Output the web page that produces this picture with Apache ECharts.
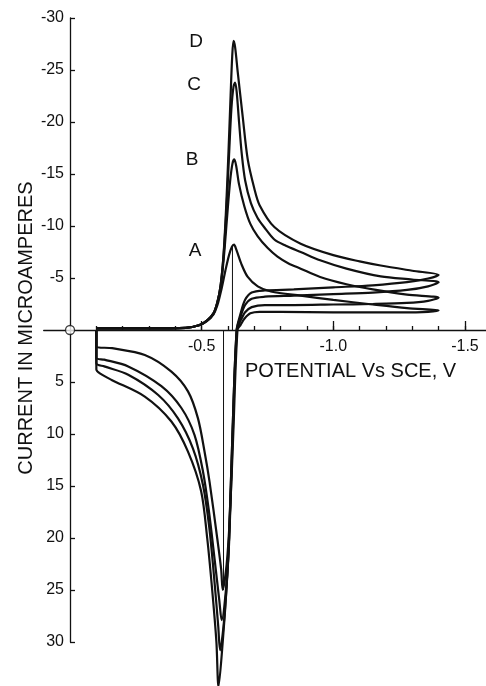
<!DOCTYPE html>
<html>
<head>
<meta charset="utf-8">
<title>Cyclic voltammograms A-D</title>
<script src="https://cdn.jsdelivr.net/npm/echarts@6.0.0/dist/echarts.min.js"></script>
<style>
html, body { margin: 0; padding: 0; background: #fff; }
#chart { width: 486px; height: 686px; }
</style>
</head>
<body>
<div id="chart"></div>
<script>
// potential in V vs SCE, current in microamperes (cathodic negative)
var curveA = [
	[-0.10, -0.15], [-0.30, -0.15], [-0.44, -0.2], [-0.49, -0.45], [-0.52, -0.85], [-0.545, -1.5], [-0.56, -2.4],
	[-0.575, -3.9], [-0.59, -5.7], [-0.604, -7.2], [-0.615, -8.0], [-0.623, -8.2], [-0.632, -7.7], [-0.650, -6.4],
	[-0.675, -5.1], [-0.713, -4.2], [-0.763, -3.7], [-0.876, -3.3], [-1.0, -2.9], [-1.15, -2.45], [-1.28, -2.1], [-1.40, -1.9],
	[-1.36, -1.75], [-1.25, -1.7], [-1.0, -1.7], [-0.80, -1.75], [-0.72, -1.75], [-0.685, -1.6], [-0.663, -1.1], [-0.648, -0.5], [-0.636, 0],
	[-0.620, 10], [-0.607, 18], [-0.595, 22.5], [-0.580, 25],
	[-0.574, 23], [-0.559, 20], [-0.530, 14.6], [-0.511, 11.7], [-0.486, 8.5], [-0.448, 5.9], [-0.385, 4.0], [-0.284, 2.4],
	[-0.16, 1.75], [-0.10, 1.6], [-0.10, 0]
];
var curveB = [
	[-0.10, -0.15], [-0.30, -0.15], [-0.44, -0.2], [-0.49, -0.45], [-0.52, -0.9], [-0.545, -1.6], [-0.56, -2.7],
	[-0.573, -4.3], [-0.585, -7.2], [-0.597, -11.0], [-0.608, -14.3], [-0.617, -16.0], [-0.624, -16.4], [-0.631, -15.8],
	[-0.642, -14.0], [-0.662, -11.9], [-0.685, -10.2], [-0.713, -9.0], [-0.75, -7.9], [-0.788, -7.05], [-0.83, -6.4],
	[-0.876, -5.9], [-0.95, -5.1], [-1.05, -4.4], [-1.15, -3.9], [-1.28, -3.4], [-1.40, -3.1],
	[-1.36, -2.8], [-1.28, -2.6], [-1.15, -2.5], [-1.00, -2.45], [-0.85, -2.4], [-0.74, -2.4], [-0.69, -2.2], [-0.665, -1.7], [-0.648, -0.9], [-0.634, 0],
	[-0.618, 10], [-0.605, 20], [-0.594, 24.5], [-0.576, 27.9],
	[-0.567, 26], [-0.549, 22], [-0.527, 17.3], [-0.505, 13.6], [-0.473, 10.1], [-0.423, 7.5], [-0.347, 5.4], [-0.221, 3.5],
	[-0.13, 2.85], [-0.10, 2.7], [-0.10, 0]
];
var curveC = [
	[-0.10, -0.15], [-0.30, -0.15], [-0.44, -0.2], [-0.49, -0.45], [-0.52, -0.9], [-0.545, -1.6], [-0.56, -2.7],
	[-0.572, -4.3], [-0.583, -7.1], [-0.594, -11.5], [-0.604, -16.8], [-0.613, -21.3], [-0.621, -23.4], [-0.627, -23.8],
	[-0.633, -22.9], [-0.642, -20.0], [-0.652, -17.0], [-0.665, -14.4], [-0.687, -12.2], [-0.712, -10.8], [-0.737, -9.9],
	[-0.776, -8.7], [-0.82, -8.1], [-0.876, -7.5], [-0.95, -6.7], [-1.05, -5.9], [-1.18, -5.15], [-1.30, -4.85], [-1.40, -4.6],
	[-1.36, -4.2], [-1.28, -3.85], [-1.15, -3.6], [-1.00, -3.45], [-0.85, -3.3], [-0.74, -3.2], [-0.69, -3.0], [-0.665, -2.4], [-0.648, -1.3], [-0.633, 0],
	[-0.617, 10], [-0.604, 20], [-0.595, 24.5], [-0.583, 28.5], [-0.570, 30.8],
	[-0.563, 28.5], [-0.548, 24], [-0.529, 19], [-0.505, 14.9], [-0.467, 11.4], [-0.410, 8.5], [-0.335, 6.25], [-0.221, 4.3],
	[-0.13, 3.5], [-0.10, 3.2], [-0.10, 0]
];
var curveD = [
	[-0.10, -0.15], [-0.30, -0.15], [-0.44, -0.2], [-0.49, -0.45], [-0.52, -0.9], [-0.545, -1.6], [-0.56, -2.7],
	[-0.572, -4.3], [-0.583, -7.2], [-0.593, -11.8], [-0.602, -17.2], [-0.610, -22.6], [-0.616, -26.3], [-0.621, -27.8],
	[-0.627, -27.2], [-0.637, -24.8], [-0.656, -20.5], [-0.675, -16.4], [-0.700, -13.6], [-0.72, -12.0], [-0.776, -9.9],
	[-0.876, -8.3], [-1.00, -7.2], [-1.10, -6.6], [-1.18, -6.2], [-1.30, -5.7], [-1.40, -5.3],
	[-1.36, -4.95], [-1.28, -4.6], [-1.15, -4.3], [-1.00, -4.1], [-0.85, -3.9], [-0.74, -3.8], [-0.69, -3.6], [-0.665, -2.9], [-0.648, -1.6], [-0.633, 0],
	[-0.617, 10], [-0.604, 20], [-0.594, 25], [-0.580, 30], [-0.564, 34.3],
	[-0.556, 30], [-0.540, 25], [-0.521, 20], [-0.498, 15.5], [-0.448, 11.7], [-0.385, 8.8], [-0.284, 6.4], [-0.158, 4.8],
	[-0.115, 4.2], [-0.10, 3.8], [-0.10, 0]
];
var curveNames = ['A', 'B', 'C', 'D'];
// thin lines marking the peak potentials of curve A
var cathodicMarkA = [[-0.617, -8.1], [-0.617, 0]];
var anodicMarkA = [[-0.583, 0], [-0.583, 25]];
var origin = [[0, 0]];
// x axis ticks and labels
var minorTicks = [-0.1, -0.2, -0.3, -0.4, -0.5, -0.6, -0.7, -0.8, -0.9, -1.0, -1.1, -1.2, -1.3, -1.4, -1.5];
var majorTicks = [-0.5, -1.0, -1.5];

var font = 'Liberation Sans';
var ink = '#111';

var chart = echarts.init(document.getElementById('chart'));

var curves = [curveA, curveB, curveC, curveD];
var series = curves.map(function (c, i) {
	return {
		name: curveNames[i],
		type: 'line',
		data: c,
		showSymbol: false,
		smooth: 0.3,
		clip: false,
		lineStyle: { color: ink, width: 2.2 },
		z: 3
	};
});
series.push({
	type: 'line', data: cathodicMarkA, showSymbol: false,
	lineStyle: { color: ink, width: 1 }, z: 2
});
series.push({
	type: 'line', data: anodicMarkA, showSymbol: false,
	lineStyle: { color: ink, width: 1 }, z: 2
});
series.push({
	type: 'scatter', data: origin, symbol: 'circle', symbolSize: 9,
	itemStyle: { color: '#fff', borderColor: ink, borderWidth: 1.3 }, z: 5
});

// axes sit on the zero lines: moved in from the grid edges with offset
option = {
	animation: false,
	backgroundColor: '#fff',
	grid: { left: 43.7, right: 0, top: 18, bottom: 44, containLabel: false },
	xAxis: [{
		type: 'value',
		inverse: true,
		min: -1.58,
		max: 0.1,
		position: 'bottom',
		offset: -312,
		axisLine: { onZero: false, lineStyle: { color: ink, width: 1.3 } },
		axisTick: { inside: true, length: 4, customValues: minorTicks, lineStyle: { color: ink, width: 1.3 } },
		axisLabel: {
			customValues: majorTicks, margin: 9, fontSize: 16, color: ink, fontFamily: font,
			formatter: function (v) { return v.toFixed(1); }
		},
		splitLine: { show: false }
	}, {
		type: 'value',
		inverse: true,
		min: -1.58,
		max: 0.1,
		position: 'bottom',
		offset: -312,
		axisLine: { show: false, onZero: false },
		axisTick: { inside: true, length: 9, customValues: majorTicks, lineStyle: { color: ink, width: 1.3 } },
		axisLabel: { show: false },
		splitLine: { show: false }
	}],
	yAxis: {
		type: 'value',
		inverse: true,
		min: -30,
		max: 30,
		interval: 5,
		position: 'left',
		offset: -26.3,
		axisLine: { onZero: false, lineStyle: { color: ink, width: 1.3 } },
		axisTick: { inside: true, length: 5, lineStyle: { color: ink, width: 1.3 } },
		axisLabel: {
			margin: 6, fontSize: 16, color: ink, fontFamily: font,
			formatter: function (v) { return v === 0 ? '' : String(v); }
		},
		splitLine: { show: false }
	},
	graphic: [
		{ type: 'text', x: 196, y: 42, style: { text: 'D', fontSize: 19, fontFamily: font, fill: ink, textAlign: 'center', textVerticalAlign: 'middle' } },
		{ type: 'text', x: 194, y: 85, style: { text: 'C', fontSize: 19, fontFamily: font, fill: ink, textAlign: 'center', textVerticalAlign: 'middle' } },
		{ type: 'text', x: 192, y: 160, style: { text: 'B', fontSize: 19, fontFamily: font, fill: ink, textAlign: 'center', textVerticalAlign: 'middle' } },
		{ type: 'text', x: 195, y: 251, style: { text: 'A', fontSize: 19, fontFamily: font, fill: ink, textAlign: 'center', textVerticalAlign: 'middle' } },
		{ type: 'text', x: 245, y: 371, style: { text: 'POTENTIAL Vs SCE, V', fontSize: 20, fontFamily: font, fill: ink, textAlign: 'left', textVerticalAlign: 'middle' } },
		{ type: 'text', x: 26, y: 328, rotation: Math.PI / 2, style: { text: 'CURRENT IN MICROAMPERES', fontSize: 20, fontFamily: font, fill: ink, textAlign: 'center', textVerticalAlign: 'middle' } }
	],
	series: series
};

chart.setOption(option);
</script>
</body>
</html>
